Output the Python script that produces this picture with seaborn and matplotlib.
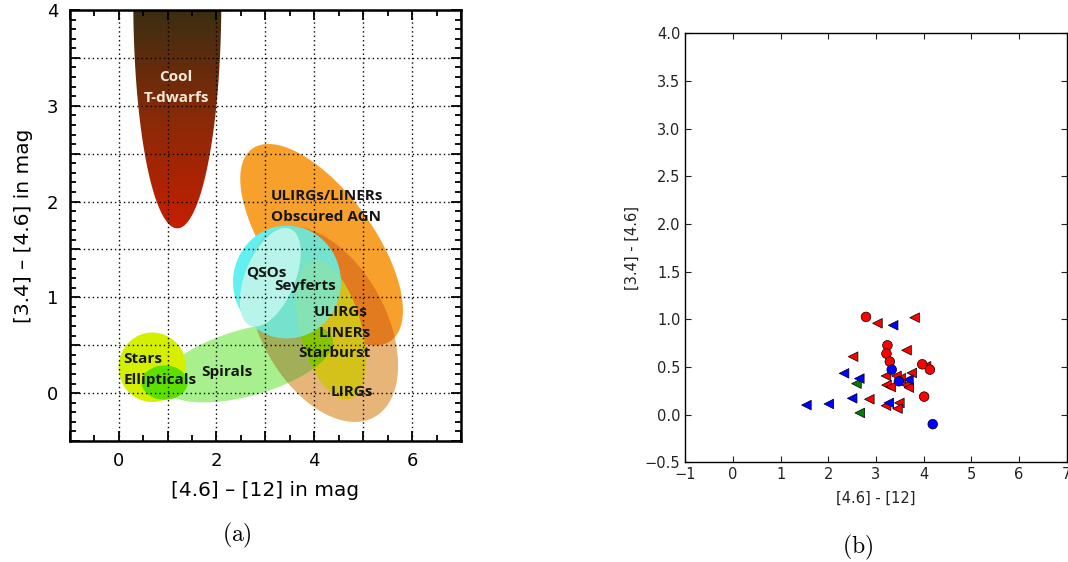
import numpy as np
import pandas as pd
import matplotlib
matplotlib.use("Agg")
import matplotlib.pyplot as plt
from matplotlib.patches import Polygon
from matplotlib.colors import LinearSegmentedColormap
from matplotlib.ticker import MultipleLocator, FuncFormatter
import seaborn as sns

# ---------------- Panel (a): WISE colour-colour regions ----------------
# centre x, centre y (data), semi-axis a, semi-axis b (in x-units), angle (deg, display)
reg_names = ["LIRGs", "Obscured", "Spirals", "Starburst", "QSOs", "Seyferts", "Stars", "Ellipticals"]
reg_cx    = [4.18, 4.15, 2.63, 4.34, 3.44, 3.10, 0.69, 0.94]
reg_cy    = [0.72, 1.55, 0.32, 0.66, 1.16, 1.21, 0.27, 0.11]
reg_a     = [2.17, 2.42, 1.81, 1.46, 1.15, 1.07, 0.71, 0.47]
reg_b     = [1.28, 1.07, 0.68, 0.63, 1.10, 0.51, 0.69, 0.35]
reg_ang   = [-61.2, -54.1, 15.6, -75.0, 90.0, 67.6, 90.0, 0.0]
reg_color = ["#e6b577", "#f7a12c", "#a8f08e", "#d4c21a", "#62f0f0", "#b8f4ea", "#d4f000", "#5ce000"]

# overlaps drawn as (shape, clipped to, colour)
ovl_shape = ["Obscured", "Spirals", "Starburst", "QSOs", "QSOs"]
ovl_clip  = ["LIRGs", "LIRGs", "Spirals", "LIRGs", "Starburst"]
ovl_color = ["#e27a20", "#a2ae58", "#86c400", "#74e2cc", "#84e2b4"]

# cool T-dwarfs region (gradient-filled)
tdw_cx, tdw_cy, tdw_a, tdw_b = 1.2, 4.1, 4.66, 0.9
tdw_colors = ["#c61e00", "#8a2a08", "#3a2e12"]

lab_text = ["ULIRGs/LINERs", "Obscured AGN", "QSOs", "Seyferts", "ULIRGs", "LINERs",
            "Starburst", "LIRGs", "Stars", "Ellipticals", "Spirals"]
lab_x = [3.12, 3.12, 2.61, 3.18, 3.99, 4.08, 3.67, 4.34, 0.10, 0.10, 1.69]
lab_y = [2.055, 1.836, 1.261, 1.115, 0.843, 0.624, 0.415, 0.007, 0.352, 0.133, 0.216]

# ---------------- Panel (b): measured sources ----------------
rt_x = [3.03, 3.81, 3.64, 2.52, 2.86, 3.21, 3.43, 3.52, 3.75, 3.22, 3.31, 3.64, 3.69, 3.21, 3.49, 3.45, 4.05]
rt_y = [0.958, 1.017, 0.675, 0.608, 0.161, 0.406, 0.406, 0.381, 0.437, 0.31, 0.29, 0.31, 0.283, 0.094, 0.123, 0.063, 0.507]
gt_x = [2.59, 2.66]
gt_y = [0.325, 0.018]
rc_x = [2.79, 3.24, 3.22, 3.29, 3.97, 4.13, 4.01]
rc_y = [1.025, 0.727, 0.64, 0.556, 0.528, 0.472, 0.189]
bt_x = [3.36, 2.33, 2.65, 2.50, 2.01, 1.54, 3.27, 3.68]
bt_y = [0.937, 0.433, 0.378, 0.171, 0.112, 0.10, 0.123, 0.367]
bc_x = [3.33, 3.48, 4.19]
bc_y = [0.472, 0.35, -0.10]

W, H = 1068, 562
fig = plt.figure(figsize=(W / 100, H / 100), dpi=100)
plt.rcParams["mathtext.fontset"] = "cm"

# ---------- left axes ----------
axL = fig.add_axes([69.7 / W, 1 - 441 / H, (461 - 69.7) / W, (441 - 10) / H])
xl, yl = (-1, 7), (-0.5, 4)
axL.set_xlim(*xl)
axL.set_ylim(*yl)
k = ((441 - 10) / (yl[1] - yl[0])) / ((461 - 69.7) / (xl[1] - xl[0]))


def ellipse_xy(cx, cy, a, b, ang):
    t = np.linspace(0, 2 * np.pi, 300)
    th = np.deg2rad(ang)
    dx = a * np.cos(t) * np.cos(th) - b * np.sin(t) * np.sin(th)
    dy = a * np.cos(t) * np.sin(th) + b * np.sin(t) * np.cos(th)
    return np.column_stack([cx + dx, cy + dy / k])


# T-dwarfs gradient
tdw_patch = Polygon(ellipse_xy(tdw_cx, tdw_cy, tdw_a, tdw_b, 90), closed=True,
                    facecolor="none", edgecolor="none")
axL.add_patch(tdw_patch)
cmap = LinearSegmentedColormap.from_list("tdw", tdw_colors)
grad = np.linspace(0, 1, 256).reshape(-1, 1)
im = axL.imshow(grad, extent=[0.2, 2.2, 1.7, 4.0], origin="lower", aspect="auto",
                cmap=cmap, zorder=1)
im.set_clip_path(tdw_patch)

patches = {}
for n, cx, cy, a, b, ang, c in zip(reg_names, reg_cx, reg_cy, reg_a, reg_b, reg_ang, reg_color):
    p = Polygon(ellipse_xy(cx, cy, a, b, ang), closed=True, facecolor=c,
                edgecolor="none", zorder=1)
    axL.add_patch(p)
    patches[n] = (p, (cx, cy, a, b, ang))
    for s, cl, oc in zip(ovl_shape, ovl_clip, ovl_color):
        if s == n and cl in patches:
            q = Polygon(ellipse_xy(cx, cy, a, b, ang), closed=True, facecolor=oc,
                        edgecolor="none", zorder=1)
            axL.add_patch(q)
            q.set_clip_path(patches[cl][0])

axL.set_xlim(*xl)
axL.set_ylim(*yl)

lab_font = dict(family="Open Sans", weight="bold", fontsize=11, color="#151515")
for t, x, y in zip(lab_text, lab_x, lab_y):
    axL.text(x, y, t, ha="left", va="center", zorder=4, **lab_font)
axL.text(1.16, 3.30, "Cool", ha="center", va="center", zorder=4,
         family="Open Sans", weight="bold", fontsize=11, color="#f4ecd8")
axL.text(1.18, 3.08, "T-dwarfs", ha="center", va="center", zorder=4,
         family="Open Sans", weight="bold", fontsize=11, color="#f4ecd8")

axL.set_axisbelow(False)
axL.xaxis.set_major_locator(MultipleLocator(1))
axL.xaxis.set_minor_locator(MultipleLocator(0.5))
axL.yaxis.set_major_locator(MultipleLocator(0.5))
axL.yaxis.set_minor_locator(MultipleLocator(0.1))
axL.xaxis.set_major_formatter(FuncFormatter(lambda v, p: f"{int(round(v))}" if round(v) % 2 == 0 else ""))
axL.yaxis.set_major_formatter(FuncFormatter(lambda v, p: f"{int(round(v))}" if abs(v - round(v)) < 1e-6 else ""))
axL.grid(True, which="major", color="black", linestyle=(0, (1, 2.2)), linewidth=1.0, zorder=2.5)
axL.tick_params(which="both", direction="in", top=True, right=True, width=1.3, color="black")
axL.tick_params(which="major", length=7, labelsize=13, pad=8)
axL.tick_params(which="minor", length=4)
for sp in axL.spines.values():
    sp.set_linewidth(1.8)
    sp.set_zorder(5)
for lab in axL.get_xticklabels() + axL.get_yticklabels():
    lab.set_family("DejaVu Sans")
axL.set_xlabel("[4.6] – [12] in mag", fontsize=14.5, family="DejaVu Sans")
axL.set_ylabel("[3.4] – [4.6] in mag", fontsize=14.5, family="DejaVu Sans")
axL.xaxis.set_label_coords(0.5, -(490 - 441) / 431)
axL.xaxis.label.set_va("center")
axL.yaxis.set_label_coords(-(69.7 - 23) / 391.3, 0.5)
axL.yaxis.label.set_va("center")

# ---------- right axes ----------
axR = fig.add_axes([685.3 / W, 1 - 462.3 / H, (1066.7 - 685.3) / W, (462.3 - 33.3) / H])
df = pd.DataFrame({
    "x": rt_x + gt_x + rc_x + bt_x + bc_x,
    "y": rt_y + gt_y + rc_y + bt_y + bc_y,
    "colour": ["red"] * len(rt_x) + ["green"] * len(gt_x) + ["red"] * len(rc_x)
              + ["blue"] * len(bt_x) + ["blue"] * len(bc_x),
    "shape": ["tri"] * len(rt_x) + ["tri"] * len(gt_x) + ["circ"] * len(rc_x)
             + ["tri"] * len(bt_x) + ["circ"] * len(bc_x),
})
sns.scatterplot(data=df, x="x", y="y", hue="colour", style="shape",
                palette={"red": "#ff0000", "green": "#008000", "blue": "#0000ff"},
                markers={"tri": "<", "circ": "o"}, s=48, edgecolor="black",
                linewidth=0.5, legend=False, ax=axR, zorder=3)
axR.set_xlim(-1, 7)
axR.set_ylim(-0.5, 4.0)
axR.xaxis.set_major_locator(MultipleLocator(1))
axR.yaxis.set_major_locator(MultipleLocator(0.5))
axR.yaxis.set_major_formatter(FuncFormatter(lambda v, p: f"{v:.1f}".replace("-", "\u2212")))
axR.tick_params(direction="in", top=True, right=True, length=4.5, width=0.8,
                labelsize=10.5, pad=3.5, colors="#222222")
for sp in axR.spines.values():
    sp.set_linewidth(1.0)
axR.set_xlabel("[4.6] - [12]", fontsize=10.5, color="#222222")
axR.set_ylabel("[3.4] - [4.6]", fontsize=10.5, color="#222222")
axR.xaxis.set_label_coords(0.5, -(498 - 462.3) / 429)
axR.xaxis.label.set_va("center")
axR.yaxis.set_label_coords(-(685.3 - 632) / 381.4, 0.5)
axR.yaxis.label.set_va("center")

fig.text(237 / W, 1 - 535 / H, r"$\mathrm{(a)}$", ha="center", va="center", fontsize=17)
fig.text(858 / W, 1 - 547 / H, r"$\mathrm{(b)}$", ha="center", va="center", fontsize=17)

fig.savefig("out.png", dpi=100)
